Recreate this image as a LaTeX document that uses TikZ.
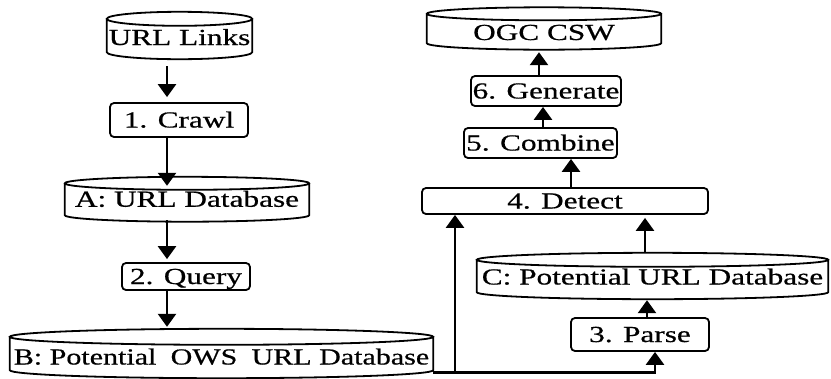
\documentclass[tikz,border=0pt]{standalone}
\usepackage{fontspec}
\newfontfamily\diagfont[FakeStretch=1.36,FakeBold=0.6]{Liberation Serif}
\usetikzlibrary{arrows.meta,calc}

% Database symbol drawn around a body node: top ellipse on the north edge,
% sides down to the south edge and a lower half-ellipse closing it.
\newcommand\dbshape[2]{%
  \draw[dbline] let \p1=(#1.north west), \p2=(#1.north east) in
    (#1.north) ellipse [x radius={(\x2-\x1)/2}, y radius=#2]
    (#1.north west) -- (#1.south west)
      arc [start angle=180, end angle=360, x radius={(\x2-\x1)/2}, y radius=#2]
      -- (#1.north east);}
\newcommand\ctr[1]{\makebox[0pt]{#1}}

\begin{document}
\begin{tikzpicture}[x=1pt, y=-1pt,
  every node/.style={font=\diagfont\fontsize{23}{27}\selectfont,
    inner sep=0pt, text height=15pt, text depth=0pt},
  stepbox/.style={draw, line width=1.8pt, rounded corners=4pt},
  dbbody/.style={},
  dbline/.style={line width=1.8pt},
  wire/.style={line width=2.6pt},
  flow/.style={wire, -{Triangle[width=18pt,length=13pt]}},
]
\useasboundingbox (0,0) rectangle (831,378);

% left column
\node[dbbody, minimum width=145pt, minimum height=33pt, text height=19pt]
  (links) at (179.5,35.5) {\ctr{URL Links}};
\node[stepbox, minimum width=138pt, minimum height=34pt]
  (crawl) at (179,120) {\ctr{1. Crawl}};
\node[dbbody, minimum width=244pt, minimum height=31.5pt]
  (adb) at (187,199.25) {\ctr{A: URL Database}};
\node[stepbox, minimum width=128pt, minimum height=27pt]
  (query) at (186,276.5) {\ctr{2. Query}};
\node[dbbody, minimum width=423pt, minimum height=33pt, text height=22pt]
  (bdb) at (221.5,353.5)
  {\ctr{\scalebox{0.96}[1]{B: Potential\hspace{7pt} OWS\hspace{7pt} URL Database}}};

% right column
\node[dbbody, minimum width=234pt, minimum height=29pt, text height=23pt]
  (ogc) at (544,28.5) {\ctr{OGC CSW}};
\node[stepbox, minimum width=150pt, minimum height=30pt]
  (generate) at (546,91) {\ctr{6. Generate}};
\node[stepbox, minimum width=153pt, minimum height=30pt]
  (combine) at (540.5,143) {\ctr{5. Combine}};
\node[stepbox, minimum width=286pt, minimum height=26pt]
  (detect) at (565,201) {\ctr{4. Detect}};
\node[dbbody, minimum width=351pt, minimum height=32pt, text height=17pt]
  (cdb) at (652.5,276) {\ctr{C: Potential URL Database}};
\node[stepbox, minimum width=138pt, minimum height=33pt]
  (parse) at (640,334.5) {\ctr{3. Parse}};

\dbshape{links}{7pt}
\dbshape{adb}{6.5pt}
\dbshape{bdb}{8pt}
\dbshape{ogc}{6.5pt}
\dbshape{cdb}{7pt}

% connector columns
\coordinate (lx) at (167,0);
\coordinate (gx) at (539,0);
\coordinate (kx) at (543,0);
\coordinate (ex) at (571,0);
\coordinate (dx) at (455,0);
\coordinate (cx) at (645,0);
\coordinate (qx) at (647,0);
\coordinate (px) at (655,0);
\coordinate (jn) at ($(bdb.south east)+(0,2)$);

\draw[flow] ($(links.south -| lx)+(0,14)$) -- ($(crawl.north -| lx)+(0,-5)$);
\draw[flow] (crawl.south -| lx) -- ($(adb.north -| lx)+(0,2.5)$);
\draw[flow] ($(adb.south -| lx)+(0,5)$) -- ($(query.north -| lx)+(0,-3)$);
\draw[flow] (query.south -| lx) -- ($(bdb.north -| lx)+(0,-10)$);

\draw[flow] (jn) -| (parse.south -| px);
\draw[flow] (jn -| dx) -- (detect.south -| dx);
\draw[flow] (parse.north -| qx) -- ($(cdb.south -| qx)+(0,8)$);
\draw[flow] ($(cdb.north -| cx)+(0,-7)$) -- ($(detect.south -| cx)+(0,3)$);
\draw[flow] (detect.north -| ex) -- (combine.south -| ex);
\draw[flow] (combine.north -| kx) -- (generate.south -| kx);
\draw[flow] (generate.north -| gx) -- ($(ogc.south -| gx)+(0,9)$);
\end{tikzpicture}
\end{document}
